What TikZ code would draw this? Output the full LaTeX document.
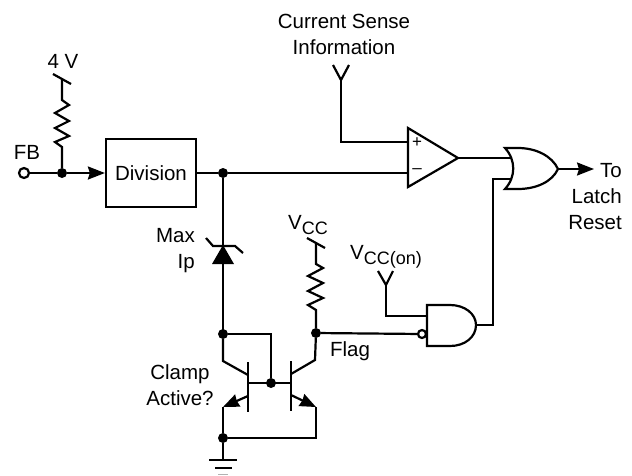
\documentclass[tikz,border=0pt]{standalone}
\usepackage{fontspec}
\setmainfont{Liberation Sans}
\usetikzlibrary{arrows.meta}
\newcommand{\subtxt}[1]{\raisebox{-5pt}{\fontsize{18}{18}\selectfont #1}}
\tikzset{
	wire/.style={line width=2.2pt,line join=miter},
	dot/.style={circle,fill=black,inner sep=0pt,minimum size=10pt},
	lbl/.style={inner sep=0pt,font=\fontsize{20.5}{26}\selectfont,align=center},
	flow/.style={wire,-{Stealth[length=17pt,width=13pt,inset=2pt]}},
	emitarrow/.style={wire,-{Stealth[length=16pt,width=13pt,inset=1pt]}},
}
\begin{document}
\begin{tikzpicture}[x=1pt,y=-1pt]
	\useasboundingbox (0,0) rectangle (632,475);
	% input and division
	\node[circle,draw,line width=2.2pt,fill=white,inner sep=0pt,minimum size=10pt] (fb) at (24,173) {};
	\node[lbl] (fbtxt) at (27,152) {FB};
	\node[dot] (j1) at (62,173) {};
	\node[draw,line width=2.2pt,minimum width=90pt,minimum height=68pt,inner sep=0pt,font=\fontsize{20.5}{26}\selectfont] (div) at (151,173) {Division};
	\node[dot] (j2) at (223,173) {};
	\draw[wire] (fb) -- (j1);
	\draw[flow] (j1) -- (div);
	\draw[wire] (div) -- (j2);
	% 4 V resistor
	\node[lbl] (fourv) at (63,61) {4 V};
	\coordinate (r1top) at (62,79);
	\draw[wire] (53,74) -- (71,84);
	\draw[wire] (r1top) -- (62,100) -- (69,105) -- (55,113) -- (69,121) -- (55,128) -- (69,136) -- (55,142) -- (62,147) -- (j1);
	% comparator
	\coordinate (cmpa) at (408,128);
	\coordinate (cmpb) at (408,187);
	\coordinate (cmpo) at (458,158);
	\draw[wire] (cmpa) -- (cmpo) -- (cmpb) -- cycle;
	\node[inner sep=0pt,font=\fontsize{17}{17}\selectfont] (plus) at (417,143) {+};
	\node[inner sep=0pt,font=\fontsize{17}{17}\selectfont] (minus) at (417,171) {--};
	\draw[wire] (j2) -- (408,173);
	\coordinate (senseY) at (341,80);
	\node[lbl] (sense) at (344,34) {Current Sense\\Information};
	\draw[wire] (333,65) -- (senseY) -- (349,65);
	\draw[wire] (senseY) -- (341,142) -- (408,142);
	% or gate
	\coordinate (ortip) at (558,169);
	\draw[wire] (505,148) -- (518,148) .. controls (536,148) and (552,156) .. (ortip) .. controls (552,182) and (536,189) .. (518,189) -- (505,189) .. controls (516,177) and (516,160) .. cycle;
	\draw[wire] (cmpo) -- (511,158);
	\draw[flow] (ortip) -- (594,169);
	\node[lbl,align=right,anchor=east] (tolatch) at (622,197) {To\\Latch\\Reset};
	% zener
	\draw[wire] (j2) -- (223,333);
	\path[fill=black] (223,245) -- (234,264) -- (212,264) -- cycle;
	\draw[wire] (206,238) -- (213,246) -- (235,246) -- (243,253);
	\node[lbl,align=right,anchor=east] (maxip) at (195,251) {Max\\Ip};
	% vcc resistor
	\node[lbl] (vcc) at (308,225) {V\subtxt{CC}};
	\draw[wire] (307,238) -- (325,248);
	\coordinate (r2top) at (316,243);
	\node[dot] (j4) at (316,333) {};
	\draw[wire] (r2top) -- (316,264) -- (323,268) -- (308,276) -- (323,283) -- (308,291) -- (323,298) -- (308,305) -- (316,310) -- (j4);
	% and gate
	\coordinate (nando) at (476,325);
	\draw[wire] (427,305) -- (450,305) .. controls (465,305) and (476,314) .. (nando) .. controls (476,337) and (465,346) .. (450,346) -- (427,346) -- cycle;
	\node[circle,draw,line width=2.2pt,fill=white,inner sep=0pt,minimum size=8pt] (bub) at (422,334) {};
	\draw[wire] (j4) -- (bub);
	\node[lbl] (vccon) at (386,257) {V\subtxt{CC(on)}};
	\coordinate (onY) at (386,285);
	\draw[wire] (378,271) -- (onY) -- (393,271);
	\draw[wire] (onY) -- (386,316) -- (427,316);
	\draw[wire] (nando) -- (493,325) -- (493,179) -- (512,179);
	\node[lbl] (flag) at (350,351) {Flag};
	% transistors
	\node[dot] (j3) at (223,334) {};
	\node[dot] (j5) at (271,383) {};
	\node[dot] (j6) at (223,438) {};
	\draw[wire] (j3) -- (271,334) -- (j5);
	\draw[wire] (248,383) -- (291,383);
	\draw[wire] (248,362) -- (248,412);
	\draw[wire] (291,361) -- (291,411);
	\draw[wire] (j3) -- (223,361) -- (248,375);
	\draw[wire] (j4) -- (315,360) -- (291,374);
	\draw[emitarrow] (248,396) -- (223,407);
	\draw[emitarrow] (291,395) -- (316,407);
	\draw[wire] (223,407) -- (j6);
	\draw[wire] (316,407) -- (316,438) -- (j6);
	\node[lbl] (clamp) at (180,385) {Clamp\\Active?};
	% ground
	\draw[wire] (j6) -- (223,460);
	\draw[wire] (209,460) -- (237,460);
	\draw[wire] (215,468) -- (232,468);
	\draw[line width=1.2pt,gray!60] (218,474.4) -- (228,474.4);
\end{tikzpicture}
\end{document}
